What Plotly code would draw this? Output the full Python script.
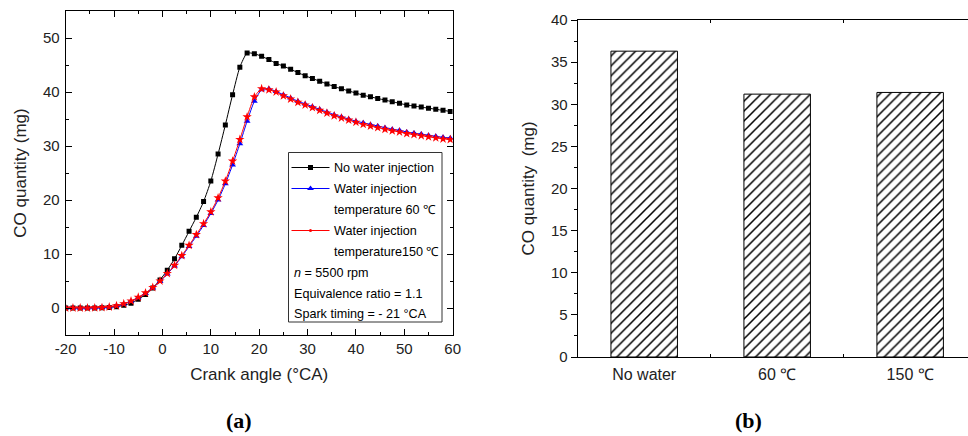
import plotly.graph_objects as go

# ---------------- data ----------------
crank_angle = [-20, -18.5, -17, -15.5, -14, -12.5, -11, -9.5, -8, -6.5, -5, -3.5, -2, -0.5,
               1, 2.5, 4, 5.5, 7, 8.5, 10, 11.5, 13, 14.5, 16, 17.5, 19, 20.5, 22, 23.5,
               25, 26.5, 28, 29.5, 31, 32.5, 34, 35.5, 37, 38.5, 40, 41.5, 43, 44.5, 46,
               47.5, 49, 50.5, 52, 53.5, 55, 56.5, 58, 59.5]

co_no_water = [0, 0, 0, 0, 0.02, 0.05, 0.1, 0.25, 0.5, 0.9,
               1.6, 2.5, 3.7, 5.2, 7.0, 9.1, 11.6, 14.2, 16.8, 19.7,
               23.5, 28.5, 33.9, 39.5, 44.6, 47.2, 47.1, 46.6, 46.0, 45.3,
               44.8, 44.2, 43.6, 43.0, 42.5, 42.0, 41.5, 41.0, 40.6, 40.2,
               39.8, 39.4, 39.1, 38.8, 38.5, 38.2, 37.9, 37.6, 37.4, 37.2,
               37.0, 36.8, 36.6, 36.4]

co_water_60 = [0, 0, 0, 0, 0.03, 0.08, 0.2, 0.4, 0.75, 1.25,
               1.9, 2.7, 3.7, 4.9, 6.3, 7.8, 9.5, 11.4, 13.3, 15.3,
               17.5, 20.0, 23.0, 26.5, 30.4, 34.6, 38.3, 40.4, 40.6, 40.1,
               39.5, 38.9, 38.3, 37.8, 37.3, 36.8, 36.3, 35.8, 35.4, 35.0,
               34.6, 34.3, 34.0, 33.7, 33.4, 33.1, 32.9, 32.6, 32.4, 32.2,
               32.0, 31.8, 31.6, 31.5]

co_water_150 = [0, 0, 0, 0, 0.03, 0.08, 0.2, 0.42, 0.8, 1.3,
                2.0, 2.8, 3.8, 5.0, 6.4, 7.9, 9.7, 11.6, 13.6, 15.6,
                17.8, 20.4, 23.5, 27.2, 31.2, 35.4, 39.1, 40.6, 40.4, 40.0,
                39.3, 38.7, 38.1, 37.6, 37.1, 36.6, 36.1, 35.6, 35.2, 34.8,
                34.4, 34.0, 33.7, 33.4, 33.1, 32.8, 32.6, 32.3, 32.1, 31.9,
                31.7, 31.5, 31.3, 31.2]

x_tick_vals = [-20, -10, 0, 10, 20, 30, 40, 50, 60]
x_tick_text = ["-20", "-10", "0", "10", "20", "30", "40", "50", "60"]

bar_categories = ["No water", "60 \u2103", "150 \u2103"]
bar_values = [36.3, 31.2, 31.4]

series_names = ["No water injection", "Water injection", "temperature 60 \u2103",
                "Water injection", "temperature150 \u2103"]
condition_lines = ["<i>n</i> = 5500 rpm", "Equivalence ratio = 1.1", "Spark timing = - 21 \u00b0CA"]

# ---------------- figure ----------------
W, H = 968, 436
FONT = "Liberation Sans, Arial, sans-serif"

def px(x):
    return x / W

def py(y):
    return 1 - y / H

fig = go.Figure()

line_specs = [
    (co_no_water, "#000000", "square", 5),
    (co_water_60, "#0000ff", "triangle-up", 6),
    (co_water_150, "#ff0000", "star", 7),
]
for vals, col, sym, sz in line_specs:
    fig.add_trace(go.Scatter(
        x=crank_angle, y=vals, mode="lines+markers",
        line=dict(color=col, width=1, shape="spline", smoothing=0.6),
        marker=dict(symbol=sym, size=sz, color=col, line=dict(width=0)),
        showlegend=False, xaxis="x", yaxis="y"))

fig.add_trace(go.Bar(
    x=bar_categories, y=bar_values, width=0.5,
    marker=dict(color="white", line=dict(color="black", width=1),
                pattern=dict(shape="/", fgcolor="black", bgcolor="white", fgopacity=1,
                             size=7, solidity=0.22)),
    showlegend=False, xaxis="x2", yaxis="y2"))

# ---- custom legend (pixel-space overlay axes) ----
leg_left, leg_top, leg_right, leg_bottom = 288.5, 152.5, 442, 322
sample_x0, sample_x1 = 291.5, 329.5
text_x = 332
row_y = [167.5, 188.5, 209.5, 230.5, 251.5, 272.5, 293.5, 314]

leg_markers = [(0, "#000000", "square", 5), (1, "#0000ff", "triangle-up", 6), (3, "#ff0000", "circle", 3)]
for row, col, sym, sz in leg_markers:
    fig.add_trace(go.Scatter(
        x=[sample_x0, sample_x1], y=[row_y[row], row_y[row]], mode="lines",
        line=dict(color=col, width=1), showlegend=False, hoverinfo="skip",
        xaxis="x3", yaxis="y3"))
    fig.add_trace(go.Scatter(
        x=[(sample_x0 + sample_x1) / 2], y=[row_y[row]], mode="markers",
        marker=dict(symbol=sym, size=sz, color=col), showlegend=False, hoverinfo="skip",
        xaxis="x3", yaxis="y3"))

shapes = [dict(type="rect", xref="x3", yref="y3", x0=leg_left, x1=leg_right, y0=leg_top, y1=leg_bottom,
               line=dict(color="#333333", width=1), fillcolor="rgba(0,0,0,0)", layer="above")]

LEG_FS = 12.6
annotations = []
for i, name in enumerate(series_names):
    annotations.append(dict(xref="x3", yref="y3", x=text_x, y=row_y[i], text=name, showarrow=False,
                            xanchor="left", yanchor="middle", font=dict(family=FONT, size=LEG_FS, color="black")))
for j, t in enumerate(condition_lines):
    annotations.append(dict(xref="x3", yref="y3", x=sample_x0, y=row_y[5 + j], text=t, showarrow=False,
                            xanchor="left", yanchor="middle", font=dict(family=FONT, size=LEG_FS, color="black")))

# panel labels
annotations.append(dict(xref="paper", yref="paper", x=px(238.5), y=py(420), text="<b>(a)</b>", showarrow=False,
                        xanchor="center", yanchor="middle",
                        font=dict(family="Liberation Serif, DejaVu Serif, serif", size=22, color="black")))
annotations.append(dict(xref="paper", yref="paper", x=px(748), y=py(420), text="<b>(b)</b>", showarrow=False,
                        xanchor="center", yanchor="middle",
                        font=dict(family="Liberation Serif, DejaVu Serif, serif", size=22, color="black")))

axis_common = dict(showgrid=False, zeroline=False, linecolor="black", linewidth=1, automargin=False,
                   tickcolor="black", tickfont=dict(family=FONT, size=15, color="#222"))

fig.update_layout(
    width=W, height=H, margin=dict(l=0, r=0, t=0, b=0, autoexpand=False),
    paper_bgcolor="white", plot_bgcolor="rgba(0,0,0,0)",
    showlegend=False,
    xaxis=dict(domain=[px(65.7), px(452.7)], anchor="y", range=[-20, 60],
               tickmode="array", tickvals=x_tick_vals, ticktext=x_tick_text,
               ticks="inside", ticklen=6, ticklabelstandoff=0,
               minor=dict(ticks="inside", ticklen=3, dtick=5, tickcolor="black"),
               showline=True, mirror="ticks",
               title=dict(text="Crank angle (\u00b0CA)", font=dict(family=FONT, size=17, color="#222"), standoff=12),
               **axis_common),
    yaxis=dict(domain=[py(335), py(11)], anchor="x", range=[-5, 55],
               tickmode="array", tickvals=[0, 10, 20, 30, 40, 50], ticks="inside", ticklen=6,
               ticklabelstandoff=2,
               minor=dict(ticks="inside", ticklen=3, tickvals=[-5, 5, 15, 25, 35, 45, 55], tickcolor="black"),
               showline=True, mirror="ticks",
               title=dict(text="CO quantity (mg)", font=dict(family=FONT, size=17, color="#222"), standoff=12),
               **axis_common),
    xaxis2=dict(domain=[px(577.7), 1.0], anchor="y2", range=[-0.5, 2.435],
                ticks="inside", tickson="boundaries", ticklen=3, showline=True, mirror="ticks",
                ticklabelstandoff=3,
                **{**axis_common, "tickfont": dict(family=FONT, size=16, color="#222")}),
    yaxis2=dict(domain=[py(357), py(20)], anchor="x2", range=[0, 40],
                tickmode="linear", tick0=0, dtick=5, ticks="outside", ticklen=6,
                minor=dict(ticks="outside", ticklen=3, dtick=2.5, tickcolor="black"),
                showline=True, mirror=False,
                title=dict(text="CO quantity  (mg)", font=dict(family=FONT, size=17, color="#222"), standoff=12),
                **axis_common),
    xaxis3=dict(domain=[0, 1], anchor="y3", range=[0, W], visible=False, fixedrange=True, automargin=False),
    yaxis3=dict(domain=[0, 1], anchor="x3", range=[H, 0], visible=False, fixedrange=True, automargin=False),
    shapes=shapes,
    annotations=annotations,
)

fig.write_html("out.html")
